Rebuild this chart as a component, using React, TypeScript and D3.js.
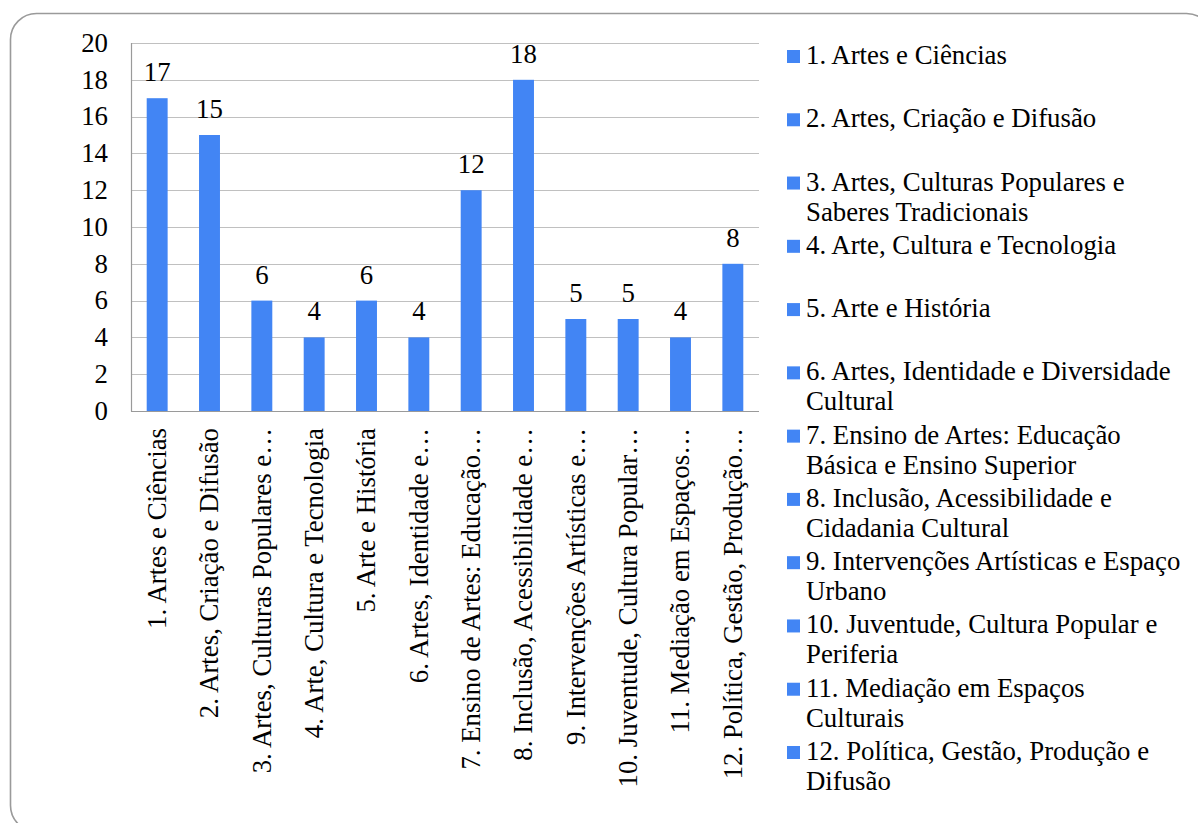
import React from 'react';
import * as d3 from 'd3';

const categories = [
  '1. Artes e Ciências',
  '2. Artes, Criação e Difusão',
  '3. Artes, Culturas Populares e Saberes Tradicionais',
  '4. Arte, Cultura e Tecnologia',
  '5. Arte e História',
  '6. Artes, Identidade e Diversidade Cultural',
  '7. Ensino de Artes: Educação Básica e Ensino Superior',
  '8. Inclusão, Acessibilidade e Cidadania Cultural',
  '9. Intervenções Artísticas e Espaço Urbano',
  '10. Juventude, Cultura Popular e Periferia',
  '11. Mediação em Espaços Culturais',
  '12. Política, Gestão, Produção e Difusão',
];

const axisLabels = [
  '1. Artes e Ciências',
  '2. Artes, Criação e Difusão',
  '3. Artes, Culturas Populares e…',
  '4. Arte, Cultura e Tecnologia',
  '5. Arte e História',
  '6. Artes, Identidade e…',
  '7. Ensino de Artes: Educação…',
  '8. Inclusão, Acessibilidade e…',
  '9. Intervenções Artísticas e…',
  '10. Juventude, Cultura Popular…',
  '11. Mediação em Espaços…',
  '12. Política, Gestão, Produção…',
];

const legendLines = [
  ['1. Artes e Ciências'],
  ['2. Artes, Criação e Difusão'],
  ['3. Artes, Culturas Populares e', 'Saberes Tradicionais'],
  ['4. Arte, Cultura e Tecnologia'],
  ['5. Arte e História'],
  ['6. Artes, Identidade e Diversidade', 'Cultural'],
  ['7. Ensino de Artes: Educação', 'Básica e Ensino Superior'],
  ['8. Inclusão, Acessibilidade e', 'Cidadania Cultural'],
  ['9. Intervenções Artísticas e Espaço', 'Urbano'],
  ['10. Juventude, Cultura Popular e', 'Periferia'],
  ['11. Mediação em Espaços', 'Culturais'],
  ['12. Política, Gestão, Produção e', 'Difusão'],
];

const values = [17, 15, 6, 4, 6, 4, 12, 18, 5, 5, 4, 8];
const yTicks = [0, 2, 4, 6, 8, 10, 12, 14, 16, 18, 20];

const FONT = "'Liberation Serif', 'Times New Roman', Tinos, serif";
const FS = 26.8;
const BAR = '#4285F4';

export default function App() {
  const W = 1198;
  const H = 823;
  const plot = { left: 131, right: 759, top: 43, bottom: 411 };

  const x = d3
    .scaleBand<string>()
    .domain(categories)
    .range([plot.left, plot.right])
    .paddingInner(0.6)
    .paddingOuter(0.3);
  const y = d3.scaleLinear().domain([0, 20]).range([plot.bottom, plot.top]);

  const legendY = d3
    .scaleLinear()
    .domain([0, categories.length - 1])
    .range([64, 760]);

  const txt = { fontFamily: FONT, fontSize: FS + 'px' } as React.CSSProperties;

  return (
    <svg
      width={W}
      height={H}
      style={{ position: 'absolute', left: 0, top: 0, background: '#fff', fontFamily: FONT }}
    >
      <rect
        x={10.5}
        y={13.5}
        width={1202}
        height={818}
        rx={26}
        ry={26}
        fill="#fff"
        stroke="#9a9a9a"
        strokeWidth={1.6}
      />

      {/* gridlines */}
      {yTicks.map((t) => (
        <line
          key={'g' + t}
          x1={plot.left}
          x2={plot.right}
          y1={Math.round(y(t)) + 0.5}
          y2={Math.round(y(t)) + 0.5}
          stroke={t === 0 ? '#9a9a9a' : '#c0c0c0'}
          strokeWidth={1.2}
        />
      ))}
      <line
        x1={plot.left + 0.5}
        x2={plot.left + 0.5}
        y1={plot.top}
        y2={plot.bottom + 0.5}
        stroke="#9a9a9a"
        strokeWidth={1.2}
      />

      {/* y tick labels */}
      {yTicks.map((t) => (
        <text
          key={'t' + t}
          x={108}
          y={y(t)}
          dy="0.33em"
          textAnchor="end"
          fontFamily={FONT}
          style={txt}
          fill="#000"
        >
          {t}
        </text>
      ))}

      {/* bars */}
      {categories.map((c, i) => (
        <rect
          key={'b' + i}
          x={x(c)}
          y={y(values[i])}
          width={x.bandwidth()}
          height={y(0) - y(values[i])}
          fill={BAR}
        />
      ))}

      {/* data labels */}
      {categories.map((c, i) => (
        <text
          key={'v' + i}
          x={(x(c) as number) + x.bandwidth() / 2}
          y={y(values[i]) - 17}
          textAnchor="middle"
          fontFamily={FONT}
          style={txt}
          fill="#000"
        >
          {values[i]}
        </text>
      ))}

      {/* category labels */}
      {categories.map((c, i) => {
        const cx = (x(c) as number) + x.bandwidth() / 2;
        const cy = 428;
        return (
          <text
            key={'c' + i}
            transform={`translate(${cx},${cy}) rotate(-90)`}
            dy="0.33em"
            textAnchor="end"
            fontFamily={FONT}
            style={txt}
            fill="#000"
          >
            {axisLabels[i]}
          </text>
        );
      })}

      {/* legend */}
      {legendLines.map((lines, i) => {
        const by = legendY(i);
        return (
          <g key={'l' + i}>
            <rect x={787} y={by - 14} width={13} height={13} fill={BAR} />
            <text x={806} y={by} fontFamily={FONT} style={txt} fill="#000">
              {lines.map((ln, j) => (
                <tspan key={j} x={806} dy={j === 0 ? 0 : 30}>
                  {ln}
                </tspan>
              ))}
            </text>
          </g>
        );
      })}
    </svg>
  );
}
